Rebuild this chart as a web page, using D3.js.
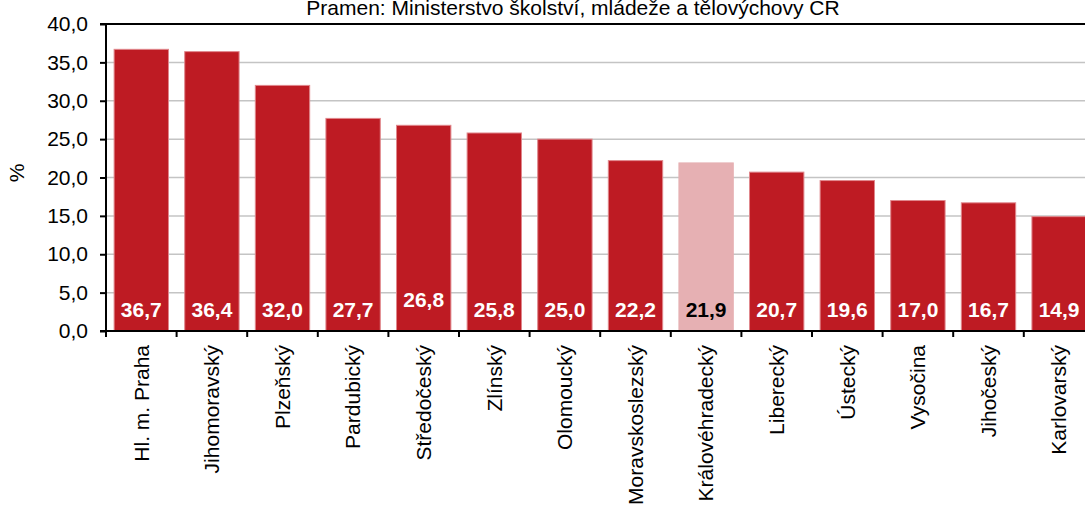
<!DOCTYPE html>
<html>
<head>
<meta charset="utf-8">
<script src="https://cdn.jsdelivr.net/npm/d3@7"></script>
<style>
  body { margin: 0; background: #fff; }
  svg { display: block; font-family: "Liberation Sans", Arial, sans-serif; }
</style>
</head>
<body>
<svg id="chart" width="1085" height="505"></svg>
<script>
(function() {

    // data
    var regions = ["Hl. m. Praha", "Jihomoravský", "Plzeňský", "Pardubický", "Středočeský",
        "Zlínský", "Olomoucký", "Moravskoslezský", "Královéhradecký", "Liberecký",
        "Ústecký", "Vysočina", "Jihočeský", "Karlovarský"];
    var shares = [36.7, 36.4, 32.0, 27.7, 26.8, 25.8, 25.0, 22.2, 21.9, 20.7, 19.6, 17.0, 16.7, 14.9];
    var yTicks = [0, 5, 10, 15, 20, 25, 30, 35, 40];
    var highlight = "Královéhradecký";
    var source = "Pramen: Ministerstvo školství, mládeže a tělovýchovy ČR";

    var svg = d3.select("#chart");

    var left = 106, top = 24, bottom = 331;
    var step = 70.6;

    var x = d3.scaleBand()
        .domain(regions)
        .range([left, left + step * regions.length])
        .paddingInner(0.23)
        .paddingOuter(0.115);

    var y = d3.scaleLinear()
        .domain([0, 40])
        .range([bottom, top]);

    var fmt = function(v) { return d3.format(".1f")(v).replace(".", ","); };

    /* grid lines */
    svg.append("g")
        .selectAll("line")
        .data(yTicks.filter(function(t) { return t > 0 && t < 40; }))
        .enter().append("line")
        .attr("x1", left)
        .attr("x2", 1085)
        .attr("y1", function(d) { return y(d); })
        .attr("y2", function(d) { return y(d); })
        .style("stroke", "#c4c4c4")
        .style("stroke-width", 1.5);

    // bars
    svg.append("g")
        .selectAll("rect")
        .data(regions)
        .enter().append("rect")
        .attr("x", function(d) { return x(d); })
        .attr("width", x.bandwidth())
        .attr("y", function(d, i) { return y(shares[i]); })
        .attr("height", function(d, i) { return y(0) - y(shares[i]); })
        .style("fill", function(d) { return d === highlight ? "#e6b0b3" : "#be1b23"; })
        .style("stroke", function(d) { return d === highlight ? "#e6b0b3" : "#e0878c"; })
        .style("stroke-width", 1);

    // value labels
    svg.append("g")
        .selectAll("text")
        .data(regions)
        .enter().append("text")
        .attr("x", function(d) { return x(d) + x.bandwidth() / 2; })
        .attr("y", function(d) { return d === "Středočeský" ? 307 : 317; })
        .attr("text-anchor", "middle")
        .style("font-size", "21px")
        .style("font-weight", "bold")
        .style("fill", function(d) { return d === highlight ? "#000" : "#fff"; })
        .text(function(d, i) { return fmt(shares[i]); });

    /* y axis */
    var yAxis = d3.axisLeft(y)
        .tickValues(yTicks)
        .tickSize(6)
        .tickPadding(12)
        .tickFormat(fmt);

    var gy = svg.append("g")
        .attr("transform", "translate(" + left + ",0)")
        .call(yAxis);
    gy.select(".domain").remove();
    gy.selectAll(".tick line").style("stroke", "#000").style("stroke-width", 2);
    gy.selectAll(".tick text")
        .style("font-size", "21px")
        .style("font-family", "Liberation Sans, Arial, sans-serif")
        .style("fill", "#000");

    // frame: left axis line, top line, bottom axis line
    svg.append("line")
        .attr("x1", left).attr("x2", left)
        .attr("y1", top).attr("y2", bottom + 1)
        .style("stroke", "#000").style("stroke-width", 2);
    svg.append("line")
        .attr("x1", left - 6).attr("x2", 1085)
        .attr("y1", top).attr("y2", top)
        .style("stroke", "#000").style("stroke-width", 2);
    svg.append("line")
        .attr("x1", left - 6).attr("x2", 1085)
        .attr("y1", bottom).attr("y2", bottom)
        .style("stroke", "#000").style("stroke-width", 2);

    // x ticks sit on the category boundaries
    svg.append("g")
        .selectAll("line")
        .data(d3.range(regions.length + 1))
        .enter().append("line")
        .attr("x1", function(i) { return left + i * x.step(); })
        .attr("x2", function(i) { return left + i * x.step(); })
        .attr("y1", bottom)
        .attr("y2", bottom + 6)
        .style("stroke", "#000")
        .style("stroke-width", 2);

    // category labels
    svg.append("g")
        .selectAll("text")
        .data(regions)
        .enter().append("text")
        .attr("transform", function(d) {
            return "translate(" + (x(d) + x.bandwidth() / 2) + ",345) rotate(-90)";
        })
        .attr("dy", "0.35em")
        .attr("text-anchor", "end")
        .style("font-size", "21px")
        .text(function(d) { return d; });

    // y title
    svg.append("text")
        .attr("transform", "translate(17,173) rotate(-90)")
        .attr("dy", "0.35em")
        .attr("text-anchor", "middle")
        .style("font-size", "21px")
        .text("%");

    // source line on top
    svg.append("text")
        .attr("x", 573)
        .attr("y", 15)
        .attr("text-anchor", "middle")
        .style("font-size", "21px")
        .text(source);

})();
</script>
</body>
</html>
